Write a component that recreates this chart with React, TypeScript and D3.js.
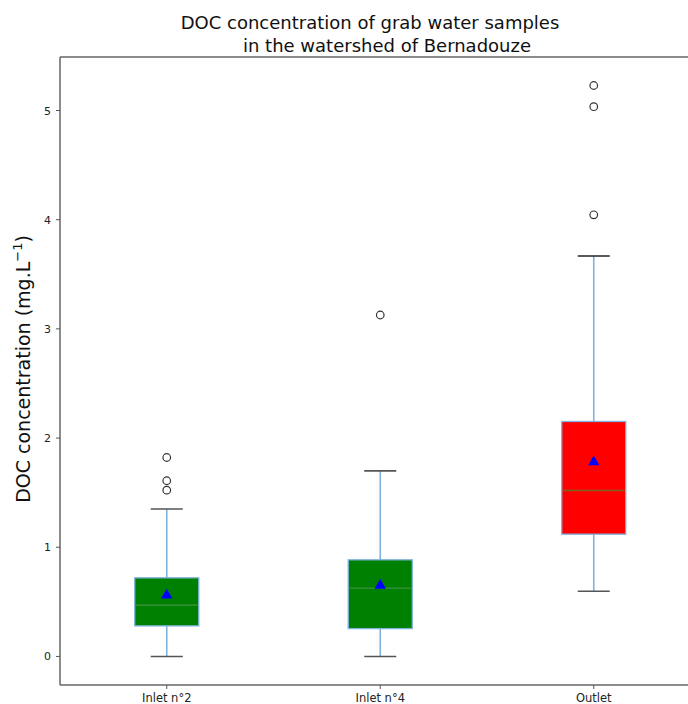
import React from "react";
import * as d3 from "d3";

const categories = ["Inlet n°2", "Inlet n°4", "Outlet"];
const q1 = [0.28, 0.255, 1.12];
const medians = [0.47, 0.625, 1.52];
const q3 = [0.72, 0.885, 2.152];
const means = [0.57, 0.66, 1.79];
const whiskerLow = [0.0, 0.0, 0.597];
const whiskerHigh = [1.35, 1.70, 3.667];
const outliers = [
  [1.822, 1.609, 1.523],
  [3.127],
  [5.229, 5.035, 4.045],
];
const fills = ["#008000", "#008000", "#ff0000"];
const medianColors = ["#2f8f2f", "#2f8f2f", "#7d6420"];
const yTicks = [0, 1, 2, 3, 4, 5];

const W = 688;
const H = 704;
const left = 60;
const top = 57;
const bottom = 685;

export default function App() {
  const x = d3.scaleLinear().domain([0.5, 3.5]).range([left, 700.5]);
  const y = d3.scaleLinear().domain([-0.2615, 5.49]).range([bottom, top]);
  const unit = x(1) - x(0);
  const boxW = 0.3 * unit;
  const capW = boxW / 2;
  const font = "DejaVu Sans, sans-serif";

  return (
    <svg
      width={W}
      height={H}
      style={{ position: "absolute", left: 0, top: 0, background: "#fff" }}
    >
      <rect x={0} y={0} width={W} height={H} fill="#fff" />
      <text x={370} y={29} textAnchor="middle" fontFamily={font} fontSize={18} fill="#111">
        DOC concentration of grab water samples
      </text>
      <text x={387} y={52} textAnchor="middle" fontFamily={font} fontSize={18} fill="#111">
        in the watershed of Bernadouze
      </text>

      {categories.map((c, i) => {
        const cx = x(i + 1);
        return (
          <g key={c}>
            <line x1={cx} x2={cx} y1={y(whiskerLow[i])} y2={y(q1[i])} stroke="#7fb2dd" strokeWidth={1.6} />
            <line x1={cx} x2={cx} y1={y(q3[i])} y2={y(whiskerHigh[i])} stroke="#7fb2dd" strokeWidth={1.6} />
            <line x1={cx - capW / 2} x2={cx + capW / 2} y1={y(whiskerLow[i])} y2={y(whiskerLow[i])} stroke="#555" strokeWidth={1.6} />
            <line x1={cx - capW / 2} x2={cx + capW / 2} y1={y(whiskerHigh[i])} y2={y(whiskerHigh[i])} stroke={i === 2 ? "#222" : "#555"} strokeWidth={1.6} />
            <rect
              x={cx - boxW / 2}
              y={y(q3[i])}
              width={boxW}
              height={y(q1[i]) - y(q3[i])}
              fill={fills[i]}
              stroke="#7fb2dd"
              strokeWidth={1.3}
            />
            <line x1={cx - boxW / 2 + 1} x2={cx + boxW / 2 - 1} y1={y(medians[i])} y2={y(medians[i])} stroke={medianColors[i]} strokeWidth={1.6} />
            <path
              d={d3.symbol().type(d3.symbolTriangle).size(56)() as string}
              transform={`translate(${cx},${y(means[i]) + 1})`}
              fill="#0000ff"
            />
            {outliers[i].map((v, j) => (
              <circle key={j} cx={cx} cy={y(v)} r={3.8} fill="none" stroke="#333" strokeWidth={1.2} />
            ))}
          </g>
        );
      })}

      {/* spines */}
      <line x1={left} x2={left} y1={top} y2={bottom} stroke="#666" strokeWidth={1.5} />
      <line x1={left} x2={W} y1={bottom} y2={bottom} stroke="#666" strokeWidth={1.5} />
      <line x1={left} x2={W} y1={top} y2={top} stroke="#666" strokeWidth={1.5} />

      {yTicks.map((t) => (
        <g key={t}>
          <line x1={left - 4} x2={left} y1={y(t)} y2={y(t)} stroke="#555" strokeWidth={1} />
          <text x={left - 9} y={y(t) + 4} textAnchor="end" fontFamily={font} fontSize={11} fill="#222">
            {t}
          </text>
        </g>
      ))}
      {categories.map((c, i) => (
        <g key={c}>
          <line x1={x(i + 1)} x2={x(i + 1)} y1={bottom} y2={bottom + 4} stroke="#555" strokeWidth={1} />
          <text x={x(i + 1)} y={bottom + 17} textAnchor="middle" fontFamily={font} fontSize={11.5} fill="#222">
            {c}
          </text>
        </g>
      ))}

      <text
        transform={`translate(30,369) rotate(-90)`}
        textAnchor="middle"
        fontFamily={font}
        fontSize={19}
        fill="#111"
      >
        DOC concentration (mg.L<tspan dy={-8} fontSize={13}>−1</tspan><tspan dy={8}>)</tspan>
      </text>
    </svg>
  );
}
